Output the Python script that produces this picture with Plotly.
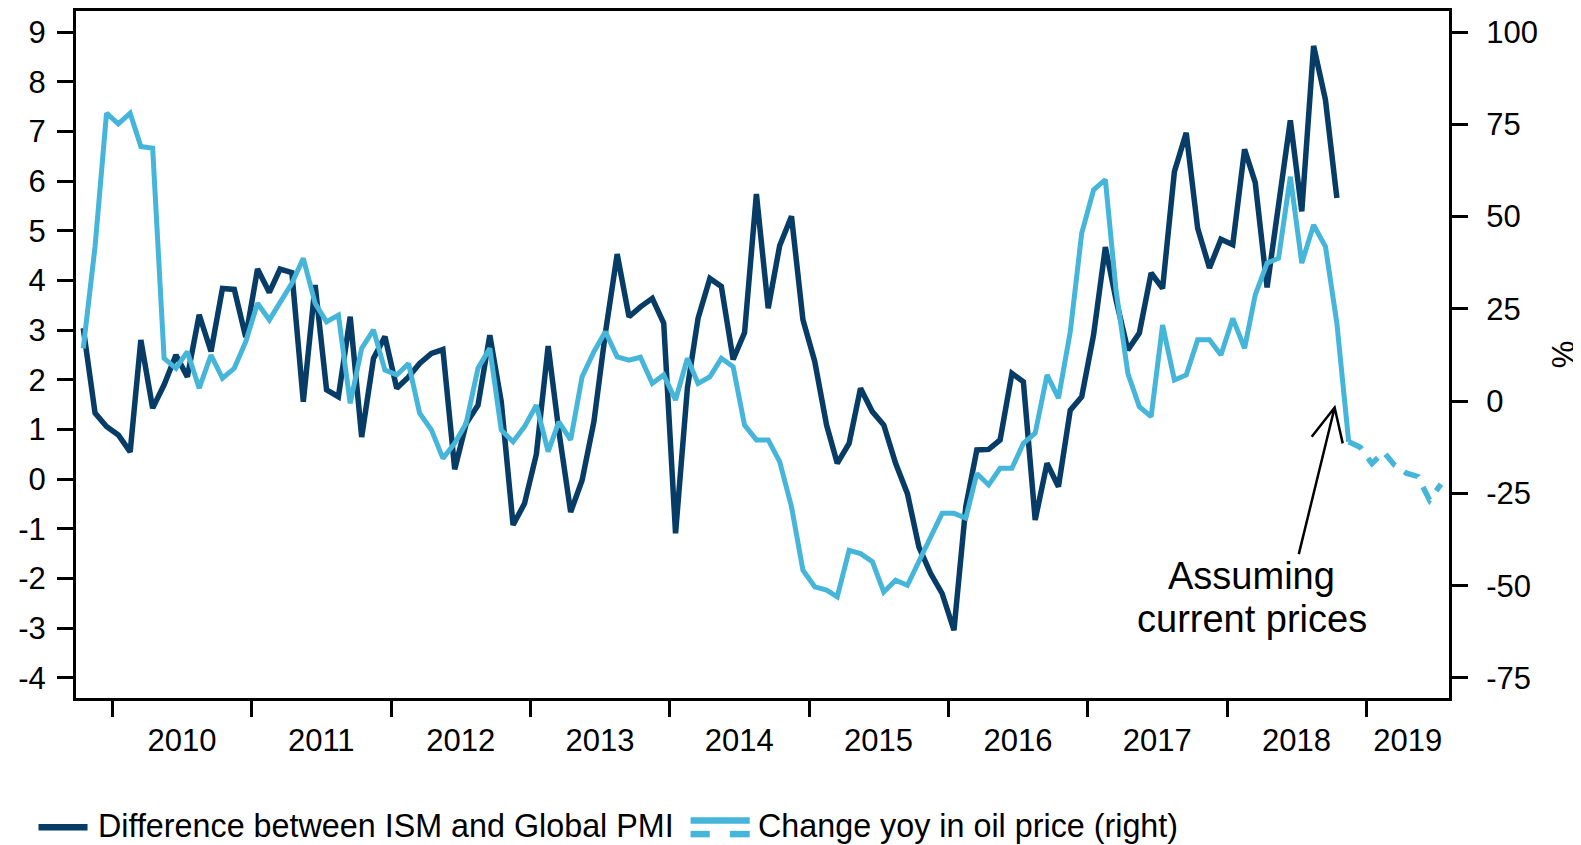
import pandas as pd
import plotly.graph_objects as go

# ---------------- data ----------------
ism_start = "2009-10-01"
ism_diff = [3.04, 1.33, 1.06, 0.89, 0.55, 2.80, 1.43, 1.90, 2.50, 2.06, 3.31, 2.57, 3.84, 3.82, 2.86,
            4.23, 3.76, 4.23, 4.16, 1.56, 3.91, 1.80, 1.66, 3.27, 0.85, 2.43, 2.87,
            1.83, 2.06, 2.33, 2.53, 2.61, 0.20, 1.12, 1.49, 2.90, 1.56, -0.92, -0.49,
            0.50, 2.68, 0.97, -0.66, -0.02, 1.16, 2.94, 4.53, 3.27, 3.47, 3.64, 3.14,
            -1.09, 1.83, 3.24, 4.04, 3.88, 2.41, 2.95, 5.74, 3.44, 4.70, 5.29, 3.21,
            2.37, 1.09, 0.32, 0.72, 1.83, 1.36, 1.09, 0.32, -0.29, -1.36, -1.90, -2.30,
            -3.04, -0.55, 0.59, 0.60, 0.79, 2.13, 1.96, -0.82, 0.32, -0.15, 1.39, 1.66,
            2.90, 4.67, 3.61, 2.60, 2.94, 4.15, 3.84, 6.19, 6.97, 5.05, 4.25, 4.83,
            4.72, 6.64, 5.97, 3.86, 5.52, 7.22, 5.39, 8.72, 7.64, 5.66]

oil_yoy = [14.3, 41.9, 78.0, 75.1, 78.0, 69.0, 68.5, 11.6, 8.9, 13.4, 3.5, 12.5, 6.2, 8.9, 16.1,
           26.5, 22.0, 27.0, 31.9, 38.7, 26.5, 21.5, 23.3, -0.6, 14.3, 19.3, 8.4,
           7.1, 10.2, -3.3, -7.8, -15.5, -11.4, -6.0, 8.9, 14.3, -7.8, -11.0, -6.9,
           -1.1, -13.7, -5.6, -10.5, 6.6, 13.4, 18.8, 12.0, 11.1, 11.9, 4.8, 7.1,
           0.3, 11.6, 4.8, 6.6, 11.6, 9.3, -6.5, -10.5, -10.5, -16.4, -28.6, -45.8,
           -50.3, -51.2, -53.0, -40.4, -41.3, -43.5, -51.7, -48.5, -49.9, -43.1, -36.8, -30.4,
           -30.4, -31.7, -19.6, -22.7, -18.2, -18.2, -11.4, -8.7, 7.1, 0.8, 18.8, 45.5,
           57.2, 60.0, 30.0, 7.5, -1.5, -4.2, 20.6, 5.7, 7.1, 16.6, 16.6, 12.5,
           22.4, 14.3, 28.8, 37.4, 38.7, 60.8, 37.4, 47.7, 41.9, 21.1, -11.0]

oil_proj_start = "2018-11-01"
oil_proj = [-11.0, -12.5, -16.9, -13.8, -17.3, -19.5, -20.4, -26.8, -22.5]

left_ticks = list(range(-4, 10))
left_ticktext = [str(v) for v in left_ticks]
right_ticks = [-75, -50, -25, 0, 25, 50, 75, 100]
right_ticktext = [str(v) for v in right_ticks]
year_labels = ["2010", "2011", "2012", "2013", "2014", "2015", "2016", "2017", "2018", "2019"]
year_label_pos = ["2010-07-02", "2011-07-02", "2012-07-02", "2013-07-02", "2014-07-02",
                  "2015-07-02", "2016-07-02", "2017-07-02", "2018-07-02", "2019-04-20"]

legend_ism = "Difference between ISM and Global PMI"
legend_oil = "Change yoy in oil price (right)"
note_lines = ["Assuming", "current prices"]

# ---------------- styling ----------------
DARK = "#063C66"
LIGHT = "#45B5DA"
FONT = "Liberation Sans, Arial, sans-serif"

mid = pd.Timedelta(days=15)
x_ism = pd.date_range(ism_start, periods=len(ism_diff), freq="MS") + mid
x_oil = pd.date_range(ism_start, periods=len(oil_yoy), freq="MS") + mid
x_proj = pd.date_range(oil_proj_start, periods=len(oil_proj), freq="MS") + mid

fig = go.Figure()
fig.add_trace(go.Scatter(x=x_oil, y=oil_yoy, yaxis="y2", mode="lines",
                         line=dict(color=LIGHT, width=5), showlegend=False))
fig.add_trace(go.Scatter(x=x_proj, y=oil_proj, yaxis="y2", mode="lines",
                         line=dict(color=LIGHT, width=5.5, dash="15px,11px"), showlegend=False))
fig.add_trace(go.Scatter(x=x_ism, y=ism_diff, yaxis="y", mode="lines",
                         line=dict(color=DARK, width=5.5), showlegend=False))

axis_font = dict(family=FONT, size=31, color="black")

# page body has an 8px margin, so the figure is 8px smaller and offset
fig.update_layout(
    width=1573, height=837,
    margin=dict(l=68, r=132, t=3, b=147, autoexpand=False),
    paper_bgcolor="white", plot_bgcolor="white",
    font=dict(family=FONT, color="black"),
    showlegend=False,
    xaxis=dict(
        type="date", range=["2009-09-27", "2019-08-06"], automargin=False,
        showgrid=False, zeroline=False,
        showline=True, linewidth=3, linecolor="black", mirror=True,
        tickmode="array", tickvals=year_label_pos, ticktext=year_labels,
        ticks="outside", ticklen=0, tickwidth=0, tickcolor="rgba(0,0,0,0)",
        ticklabelstandoff=13,
        tickfont=axis_font,
        minor=dict(ticks="outside", ticklen=16, tickwidth=3, tickcolor="black",
                   dtick="M12", tick0="2010-01-01", showgrid=False),
    ),
    yaxis=dict(
        range=[-4.403, 9.423], automargin=False, showgrid=False, zeroline=False,
        showline=True, linewidth=3, linecolor="black",
        tickmode="array", tickvals=left_ticks, ticktext=left_ticktext,
        ticks="outside", ticklen=16, tickwidth=3, tickcolor="black",
        ticklabelstandoff=5,
        tickfont=axis_font,
    ),
    yaxis2=dict(
        range=[-80.42, 105.69], overlaying="y", side="right", automargin=False,
        showgrid=False, zeroline=False,
        showline=True, linewidth=3, linecolor="black",
        tickmode="array", tickvals=right_ticks, ticktext=right_ticktext,
        ticks="outside", ticklen=16, tickwidth=3, tickcolor="black",
        ticklabelstandoff=12,
        tickfont=axis_font,
        title=dict(text="%", font=axis_font, standoff=17),
    ),
)

# annotation text + open arrow
fig.add_annotation(xref="paper", yref="paper", x=0.8565, y=0.1770, text=note_lines[0],
                   showarrow=False, xanchor="center", yanchor="middle",
                   font=dict(family=FONT, size=38, color="black"))
fig.add_annotation(xref="paper", yref="paper", x=0.8565, y=0.1155, text=note_lines[1],
                   showarrow=False, xanchor="center", yanchor="middle",
                   font=dict(family=FONT, size=38, color="black"))
fig.add_shape(type="path", xref="paper", yref="paper",
              path="M 0.8906 0.2094 L 0.9167 0.4228 M 0.9000 0.3802 L 0.9167 0.4228 L 0.9226 0.3706",
              line=dict(color="black", width=2.5))

# custom legend (stacked solid + dashed symbol for oil)
fig.add_shape(type="line", xref="paper", yref="paper", x0=-0.0273, x1=0.0084, y0=-0.1882, y1=-0.1882,
              line=dict(color=DARK, width=6.5))
fig.add_shape(type="line", xref="paper", yref="paper", x0=0.4476, x1=0.4907, y0=-0.1782, y1=-0.1782,
              line=dict(color=LIGHT, width=6.5))
fig.add_shape(type="line", xref="paper", yref="paper", x0=0.4476, x1=0.4616, y0=-0.1981, y1=-0.1981,
              line=dict(color=LIGHT, width=6.5))
fig.add_shape(type="line", xref="paper", yref="paper", x0=0.4762, x1=0.4907, y0=-0.1981, y1=-0.1981,
              line=dict(color=LIGHT, width=6.5))
fig.add_annotation(xref="paper", yref="paper", x=0.0148, y=-0.1862, text=legend_ism,
                   showarrow=False, xanchor="left", yanchor="middle",
                   font=dict(family=FONT, size=32.3, color="black"))
fig.add_annotation(xref="paper", yref="paper", x=0.4951, y=-0.1862, text=legend_oil,
                   showarrow=False, xanchor="left", yanchor="middle",
                   font=dict(family=FONT, size=32.3, color="black"))

fig.write_html("out.html")
